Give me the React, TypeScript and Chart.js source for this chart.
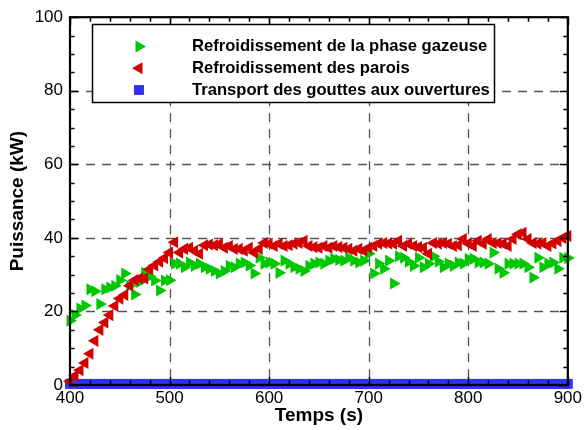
import { useEffect, useRef } from 'react';
import { Chart, registerables } from 'chart.js';

Chart.register(...registerables);

// ---------- data ----------
const times = [
  400, 405, 410, 415, 420, 425, 430, 435, 440, 445,
  450, 455, 460, 465, 470, 475, 480, 485, 490, 495,
  500, 505, 510, 515, 520, 525, 530, 535, 540, 545,
  550, 555, 560, 565, 570, 575, 580, 585, 590, 595,
  600, 605, 610, 615, 620, 625, 630, 635, 640, 645,
  650, 655, 660, 665, 670, 675, 680, 685, 690, 695,
  700, 705, 710, 715, 720, 725, 730, 735, 740, 745,
  750, 755, 760, 765, 770, 775, 780, 785, 790, 795,
  800, 805, 810, 815, 820, 825, 830, 835, 840, 845,
  850, 855, 860, 865, 870, 875, 880, 885, 890, 895,
  900,
];

const gasCooling = [
  17.5, 19.0, 20.8, 21.6, 26.0, 25.5, 22.0, 26.0, 26.5, 27.0,
  28.5, 30.3, 27.0, 24.6, 28.0, 30.5, 29.5, 28.4, 25.7, 28.4,
  28.5, 33.0, 33.0, 32.0, 33.3, 32.4, 33.0, 32.0, 31.6, 31.0,
  30.3, 31.0, 32.4, 32.0, 33.0, 33.3, 32.5, 30.3, 34.6, 33.0,
  33.3, 33.0, 30.5, 33.8, 33.0, 32.0, 31.6, 31.0, 32.4, 33.0,
  33.3, 33.0, 33.8, 34.3, 34.0, 33.8, 34.6, 33.8, 33.3, 33.8,
  35.7, 30.3, 33.0, 31.6, 33.8, 27.6, 35.0, 34.6, 33.5, 32.4,
  34.6, 32.0, 33.0, 35.0, 33.5, 32.0, 33.0, 32.4, 33.3, 33.0,
  34.3, 34.3, 33.3, 33.3, 33.0, 36.0, 31.6, 30.5, 33.0, 33.0,
  33.0, 33.0, 32.0, 29.2, 34.6, 32.0, 33.0, 33.3, 31.6, 34.6,
  34.5,
];

const wallCooling = [
  1.0, 2.5, 4.0, 6.0, 8.5, 12.0, 15.0, 17.0, 19.0, 21.5,
  23.5, 24.5, 27.0, 28.5, 29.0, 29.0, 31.5, 32.5, 33.5, 34.5,
  36.0, 38.8, 36.0, 37.0, 37.3, 36.5, 35.7, 38.0, 38.2, 38.0,
  38.3, 37.3, 37.8, 37.0, 37.0, 36.5, 37.3, 36.0, 37.0, 38.6,
  38.4, 37.8, 38.4, 37.8, 38.0, 38.4, 38.6, 39.2, 37.8, 37.5,
  37.3, 37.8, 37.3, 37.8, 37.5, 37.3, 37.0, 36.5, 37.0, 36.5,
  37.3, 37.8, 38.4, 38.6, 38.5, 38.4, 39.2, 37.8, 38.4, 37.8,
  37.5, 37.3, 35.7, 38.6, 38.4, 38.6, 38.4, 37.8, 38.0, 39.7,
  38.5, 37.8, 39.2, 38.4, 39.7, 38.6, 38.6, 38.4, 37.8, 39.7,
  41.0, 41.4, 39.7, 38.6, 38.4, 38.6, 37.8, 38.5, 39.2, 40.0,
  40.5,
];

const dropTransport = [
  0.3, 0.3, 0.3, 0.3, 0.3, 0.3, 0.3, 0.3, 0.3, 0.3,
  0.3, 0.3, 0.3, 0.3, 0.3, 0.3, 0.3, 0.3, 0.3, 0.3,
  0.3, 0.3, 0.3, 0.3, 0.3, 0.3, 0.3, 0.3, 0.3, 0.3,
  0.3, 0.3, 0.3, 0.3, 0.3, 0.3, 0.3, 0.3, 0.3, 0.3,
  0.3, 0.3, 0.3, 0.3, 0.3, 0.3, 0.3, 0.3, 0.3, 0.3,
  0.3, 0.3, 0.3, 0.3, 0.3, 0.3, 0.3, 0.3, 0.3, 0.3,
  0.3, 0.3, 0.3, 0.3, 0.3, 0.3, 0.3, 0.3, 0.3, 0.3,
  0.3, 0.3, 0.3, 0.3, 0.3, 0.3, 0.3, 0.3, 0.3, 0.3,
  0.3, 0.3, 0.3, 0.3, 0.3, 0.3, 0.3, 0.3, 0.3, 0.3,
  0.3, 0.3, 0.3, 0.3, 0.3, 0.3, 0.3, 0.3, 0.3, 0.3,
  0.3,
];

const seriesLabels = [
  'Refroidissement de la phase gazeuse',
  'Refroidissement des parois',
  'Transport des gouttes aux ouvertures',
];

const xTicks = [400, 500, 600, 700, 800, 900];
const yTicks = [0, 20, 40, 60, 80, 100];
const xMinorStep = 20;
const yMinorStep = 5;
const xTitle = 'Temps (s)';
const yTitle = 'Puissance (kW)';

// ---------- styles ----------
const GREEN = '#00c800';
const RED = '#d20000';
const BLUE = '#2f2fff';
const FONT = "'Liberation Sans', Arial, sans-serif";

function drawMarker(ctx: CanvasRenderingContext2D, style: string, rot: number, x: number, y: number, r: number, color: string) {
  ctx.save();
  ctx.fillStyle = color;
  ctx.beginPath();
  if (style === 'triangle') {
    let rad = (rot * Math.PI) / 180;
    ctx.moveTo(x + Math.sin(rad) * r, y - Math.cos(rad) * r);
    rad += (2 * Math.PI) / 3;
    ctx.lineTo(x + Math.sin(rad) * r, y - Math.cos(rad) * r);
    rad += (2 * Math.PI) / 3;
    ctx.lineTo(x + Math.sin(rad) * r, y - Math.cos(rad) * r);
    ctx.closePath();
  } else {
    const s = Math.SQRT1_2 * r;
    ctx.rect(x - s, y - s, 2 * s, 2 * s);
  }
  ctx.fill();
  ctx.restore();
}

const framePlugin = {
  id: 'frameAndLegend',
  beforeDatasetsDraw(chart: any) {
    const { ctx, chartArea: a, scales } = chart;
    const x = scales.x;
    const y = scales.y;
    ctx.save();
    ctx.strokeStyle = '#555555';
    ctx.lineWidth = 1.3;
    ctx.setLineDash([9, 7]);
    for (const v of xTicks) {
      if (v <= x.min || v >= x.max) continue;
      const px = Math.round(x.getPixelForValue(v)) + 0.5;
      ctx.beginPath();
      ctx.moveTo(px, a.top);
      ctx.lineTo(px, a.bottom);
      ctx.stroke();
    }
    for (const v of yTicks) {
      if (v <= y.min || v >= y.max) continue;
      const py = Math.round(y.getPixelForValue(v)) + 0.5;
      ctx.beginPath();
      ctx.moveTo(a.left, py);
      ctx.lineTo(a.right, py);
      ctx.stroke();
    }
    ctx.restore();
  },
  afterDatasetsDraw(chart: any) {
    const { ctx, chartArea: a, scales } = chart;
    const x = scales.x;
    const y = scales.y;
    ctx.save();
    ctx.strokeStyle = '#000';
    ctx.lineWidth = 1.5;
    ctx.setLineDash([]);
    const major = 8;
    const minor = 4.5;
    for (let v = x.min; v <= x.max + 1e-9; v += xMinorStep) {
      const isMajor = xTicks.includes(v);
      const len = isMajor ? major : minor;
      const px = Math.round(x.getPixelForValue(v)) + 0.5;
      ctx.beginPath();
      ctx.moveTo(px, a.bottom);
      ctx.lineTo(px, a.bottom - len);
      ctx.moveTo(px, a.top);
      ctx.lineTo(px, a.top + len);
      ctx.stroke();
    }
    for (let v = y.min; v <= y.max + 1e-9; v += yMinorStep) {
      const isMajor = yTicks.includes(v);
      const len = isMajor ? major : minor;
      const py = Math.round(y.getPixelForValue(v)) + 0.5;
      ctx.beginPath();
      ctx.moveTo(a.left, py);
      ctx.lineTo(a.left + len, py);
      ctx.moveTo(a.right, py);
      ctx.lineTo(a.right - len, py);
      ctx.stroke();
    }
    ctx.lineWidth = 2.2;
    ctx.strokeRect(a.left, a.top, a.right - a.left, a.bottom - a.top);
    ctx.restore();
  },
  afterDraw(chart: any) {
    const { ctx } = chart;
    ctx.save();
    ctx.fillStyle = '#fff';
    ctx.fillRect(92, 24, 403, 79);
    ctx.strokeStyle = '#000';
    ctx.lineWidth = 1.5;
    ctx.strokeRect(92.5, 24.5, 402, 78);
    const rows = [46.5, 68.2, 90];
    chart.data.datasets.forEach((ds: any, i: number) => {
      drawMarker(ctx, ds.pointStyle, ds.rotation || 0, 139, rows[i], 7, ds.backgroundColor);
      ctx.fillStyle = '#000';
      ctx.font = `bold 16.6px ${FONT}`;
      ctx.textBaseline = 'middle';
      ctx.textAlign = 'left';
      ctx.fillText(ds.label, 192, rows[i]);
    });
    ctx.restore();
  },
};

export default function App() {
  const ref = useRef<HTMLCanvasElement | null>(null);

  useEffect(() => {
    document.body.style.margin = '0';
    const canvas = ref.current;
    if (!canvas) return;
    const toPoints = (vals: number[]) => times.map((t, i) => ({ x: t, y: vals[i] }));
    const chart = new Chart(canvas, {
      type: 'scatter',
      data: {
        datasets: [
          {
            label: seriesLabels[0],
            data: toPoints(gasCooling),
            pointStyle: 'triangle',
            rotation: 90,
            pointRadius: 7,
            backgroundColor: GREEN,
            borderWidth: 0,
            clip: false,
            order: 1,
          } as any,
          {
            label: seriesLabels[1],
            data: toPoints(wallCooling),
            pointStyle: 'triangle',
            rotation: -90,
            pointRadius: 7,
            backgroundColor: RED,
            borderWidth: 0,
            clip: false,
            order: 0,
          } as any,
          {
            label: seriesLabels[2],
            data: toPoints(dropTransport),
            pointStyle: 'rect',
            pointRadius: 7,
            backgroundColor: BLUE,
            borderWidth: 0,
            clip: false,
            order: 2,
          } as any,
        ],
      },
      options: {
        responsive: false,
        animation: false,
        devicePixelRatio: 1,
        events: [],
        layout: { padding: { top: 15, right: 16, left: 0, bottom: 0 } },
        plugins: {
          legend: { display: false },
          tooltip: { enabled: false },
        },
        scales: {
          x: {
            type: 'linear',
            min: 400,
            max: 900,
            afterBuildTicks: (s: any) => {
              s.ticks = xTicks.map((v) => ({ value: v }));
            },
            afterFit: (s: any) => {
              s.height = 45;
            },
            grid: { display: false, drawTicks: false },
            border: { display: false },
            ticks: {
              padding: 3,
              color: '#000',
              font: { family: FONT, size: 17 },
              maxRotation: 0,
              autoSkip: false,
            },
            title: {
              display: true,
              text: xTitle,
              color: '#000',
              font: { family: FONT, size: 19, weight: 'bold' },
              padding: { top: 0, bottom: 3 },
            },
          },
          y: {
            type: 'linear',
            min: 0,
            max: 100,
            afterBuildTicks: (s: any) => {
              s.ticks = yTicks.map((v) => ({ value: v }));
            },
            afterFit: (s: any) => {
              s.width = 70;
            },
            grid: { display: false, drawTicks: false },
            border: { display: false },
            ticks: {
              padding: 7,
              color: '#000',
              font: { family: FONT, size: 17 },
              autoSkip: false,
            },
            title: {
              display: true,
              text: yTitle,
              color: '#000',
              font: { family: FONT, size: 19, weight: 'bold' },
              padding: { top: 6, bottom: 0 },
            },
          },
        },
      } as any,
      plugins: [framePlugin],
    });
    return () => chart.destroy();
  }, []);

  return <canvas ref={ref} width={585} height={430} style={{ display: 'block' }} />;
}
